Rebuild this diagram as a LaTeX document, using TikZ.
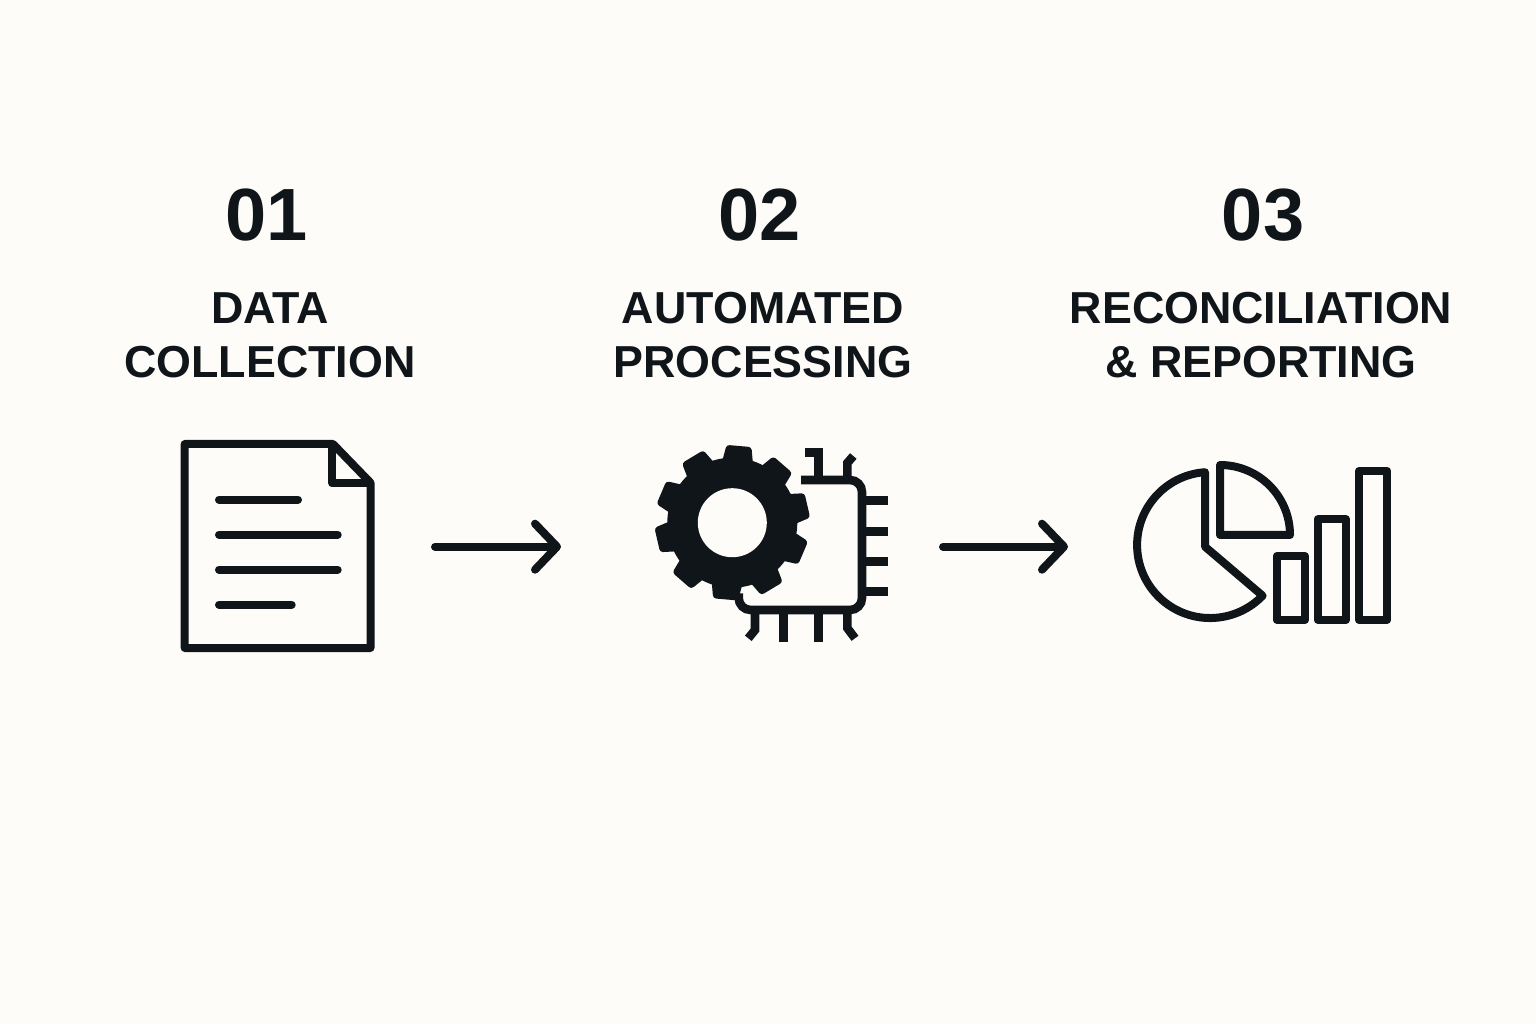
\documentclass[tikz,border=0pt]{standalone}
\usepackage{fontspec}
\setmainfont{Liberation Sans}
\usetikzlibrary{arrows.meta}
\definecolor{ink}{HTML}{0F1519}
\definecolor{paper}{HTML}{FDFCF8}
\tikzset{
  number/.style= {text=ink, anchor=base, font=\bfseries\fontsize{37}{37}\selectfont},
  title/.style= {text=ink, align=center, font=\bfseries\fontsize{22.4}{27}\selectfont},
  thick line/.style= {draw=ink, line width=4pt, line join=round},
  text line/.style= {thick line, line cap=round},
  pin/.style= {draw=ink, line width=4.3pt, line join=miter},
  flow/.style= {text line, -{Straight Barb[length=11pt, width=23pt, round]}},
}
\newcommand{\geartooth}[1]{
  \fill [ink, rounded corners=1.5, rotate around={#1:(gear)}]
    (732.3+60,501.3-15.5) -- (732.3+77,501.3-12.5) -- (732.3+77,501.3+12.5) -- (732.3+60,501.3+15.5) -- cycle ;
}

\begin{document}
\begin{tikzpicture}[x=0.5pt, y=0.5pt]
  \fill [paper] (0,0) rectangle (1536,1024) ;
  \useasboundingbox (0,0) rectangle (1536,1024) ;

  \node [number] (numa) at (267,783) {01} ;
  \node [number] (numb) at (760,783) {02} ;
  \node [number] (numc) at (1263,783) {03} ;
  \node [title] (titlea) at (270,688.5) {DATA\\COLLECTION} ;
  \node [title] (titleb) at (763,688.5) {AUTOMATED\\PROCESSING} ;
  \node [title] (titlec) at (1261,688.5) {RECONCILIATION\\\& REPORTING} ;

  % document
  \draw [thick line] (184.7,376) -- (184.7,580) -- (333,580) -- (370.5,541.3) -- (370.5,376) -- cycle ;
  \draw [thick line] (332.3,580) -- (332.3,540.7) -- (370.5,540.7) ;
  \draw [text line] (219,524.3) -- (298,524.3) ;
  \draw [text line] (219,489.3) -- (337.7,489.3) ;
  \draw [text line] (219,454.3) -- (337.7,454.3) ;
  \draw [text line] (219,419.3) -- (291.7,419.3) ;

  % arrows
  \coordinate (aleft) at (435,477.3) ;
  \coordinate (aright) at (561,477.3) ;
  \coordinate (bleft) at (943,477.3) ;
  \coordinate (bright) at (1068,477.3) ;
  \draw [flow] (aleft) -- (aright) ;
  \draw [flow] (bleft) -- (bright) ;

  % gear
  \coordinate (gear) at (732.3,501.3) ;
  \fill [ink] (gear) circle [radius=65] ;
  \geartooth{85} \geartooth{49} \geartooth{13} \geartooth{-23} \geartooth{-59}
  \geartooth{-95} \geartooth{-131} \geartooth{-167} \geartooth{157} \geartooth{121}
  \fill [paper] (gear) circle [radius=34.5] ;

  % chip
  \draw [pin, rounded corners=6pt] (801,544) -- (862,544) -- (862,414) -- (738.7,414) -- (738.7,430.7) ;
  \draw [pin] (862,523.3) -- (887.7,523.3) ;
  \draw [pin] (862,492.7) -- (887.7,492.7) ;
  \draw [pin] (862,462.7) -- (887.7,462.7) ;
  \draw [pin] (862,432.3) -- (887.7,432.3) ;
  \draw [pin] (783.3,414) -- (783.3,382) ;
  \draw [pin] (818.3,414) -- (818.3,382) ;
  \draw [pin] (755,414) -- (755,394) -- (748.3,385.7) ;
  \draw [pin] (847.3,414) -- (847.3,396) -- (855,385.7) ;
  \draw [pin] (805,571.3) -- (818.3,571.3) -- (818.3,544) ;
  \draw [pin] (847.3,544) -- (847.3,561) -- (853.3,568) ;

  % charts
  \draw [thick line] (1205,477.3) -- (1205,551.8) arc [start angle=94, end angle=316, radius=73] -- cycle ;
  \draw [thick line] (1220,489) -- (1220,559) arc [start angle=90, end angle=0, radius=70] -- cycle ;
  \draw [thick line] (1276.7,404) rectangle (1305,468) ;
  \draw [thick line] (1317.7,404) rectangle (1346,504.7) ;
  \draw [thick line] (1359,404) rectangle (1387.3,553) ;
\end{tikzpicture}
\end{document}
